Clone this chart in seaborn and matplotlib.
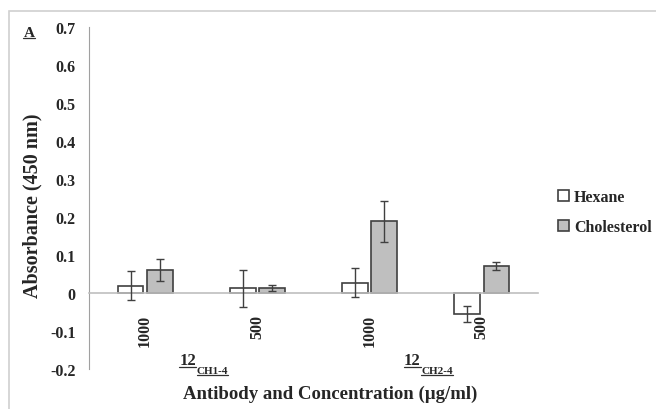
import numpy as np
import pandas as pd
import matplotlib.pyplot as plt
import seaborn as sns
from matplotlib.patches import Rectangle
from matplotlib.lines import Line2D

# data
groups = ["12", "12", "12", "12"]
group_subs = ["CH1-4", "CH1-4", "CH2-4", "CH2-4"]
concs = ["1000", "500", "1000", "500"]
solvents = ["Hexane", "Cholesterol"]
hexane = [0.019, 0.012, 0.027, -0.055]
hexane_err = [0.038, 0.048, 0.038, 0.022]
cholesterol = [0.060, 0.013, 0.189, 0.071]
cholesterol_err = [0.029, 0.007, 0.054, 0.010]

cats = [g + s + " " + c for g, s, c in zip(groups, group_subs, concs)]
df = pd.DataFrame({
    "cat": cats * 2,
    "solvent": [solvents[0]] * 4 + [solvents[1]] * 4,
    "value": hexane + cholesterol,
})
errs = {solvents[0]: hexane_err, solvents[1]: cholesterol_err}

sns.set_style("white")
plt.rcParams["font.family"] = ["Liberation Serif", "DejaVu Serif"]
plt.rcParams["font.weight"] = "bold"

fig = plt.figure(figsize=(6.56, 4.10), dpi=100)
ax = fig.add_axes([89 / 656, 1 - 370 / 410, (538 - 89) / 656, (370 - 28) / 410])

edge = "#404040"
sns.barplot(data=df, x="cat", y="value", hue="solvent", hue_order=solvents,
            order=cats, palette=["white", "#BFBFBF"], width=0.52, gap=0.12,
            edgecolor=edge, linewidth=1.2, errorbar=None, legend=False, ax=ax)
bar_conts = list(ax.containers)

# error bars on each bar
for cont, name in zip(bar_conts, solvents):
    xs = [p.get_x() + p.get_width() / 2 for p in cont.patches]
    ys = df[df.solvent == name].value.values
    ax.errorbar(xs, ys, yerr=errs[name], fmt="none", ecolor="#404040",
                elinewidth=1, capsize=3, capthick=1, zorder=5)

ax.set_ylim(-0.2, 0.7)
ax.set_xlim(-0.5, len(cats) - 0.5)
ax.set_yticks(np.arange(-0.2, 0.71, 0.1))
ax.set_yticklabels(["-0.2", "-0.1", "0", "0.1", "0.2", "0.3", "0.4", "0.5", "0.6", "0.7"])
ax.tick_params(axis="y", length=0, pad=9.5, labelsize=11.5)

ax.spines["top"].set_visible(False)
ax.spines["right"].set_visible(False)
ax.spines["left"].set_color("#A0A0A0")
ax.spines["bottom"].set_position(("data", 0))
ax.spines["bottom"].set_color("#BFBFBF")
ax.spines["bottom"].set_linewidth(1.2)

ax.set_xticks(range(len(cats)))
ax.set_xticklabels(concs, rotation=90, va="top", ha="center")
ax.tick_params(axis="x", length=0, pad=15, labelsize=11.5)
ax.set_xticks(np.arange(0.5, len(cats), 1.0), minor=True)
ax.tick_params(axis="x", which="minor", length=5, color="#BFBFBF", width=1.2)

ax.set_xlabel("Antibody and Concentration (µg/ml)", fontsize=13.5, fontweight="bold")
ax.xaxis.set_label_coords(0.537, -0.045)
ax.set_ylabel("Absorbance (450 nm)", fontsize=14.5, fontweight="bold")
ax.yaxis.set_label_coords(-0.104, 0.48)

# group labels: "12" with a subscript, both underlined
underline_texts = []
for g, s in dict.fromkeys(zip(groups, group_subs)):
    idx = [i for i, (gg, ss) in enumerate(zip(groups, group_subs)) if (gg, ss) == (g, s)]
    xc = np.mean(idx)
    t1 = ax.text(xc - 0.12, -0.188, g, ha="center", va="baseline",
                 fontsize=12, fontweight="bold")
    t2 = ax.annotate(s, xy=(1, 0), xycoords=t1, xytext=(0.3, -3.5),
                     textcoords="offset points", ha="left", va="baseline",
                     fontsize=8, fontweight="bold")
    underline_texts += [t1, t2]

ta = fig.text(29 / 656, 1 - 37 / 410, "A", ha="center", va="baseline",
              fontsize=11, fontweight="bold")
underline_texts.append(ta)

leg = ax.legend(handles=[c.patches[0] for c in bar_conts], labels=solvents,
                loc="center left", bbox_to_anchor=(558 / 656, 1 - 213 / 410),
                bbox_transform=fig.transFigure, frameon=False, fontsize=11.5,
                handlelength=0.7, handleheight=0.7, handletextpad=0.3,
                labelspacing=0.85, borderpad=0, borderaxespad=0)

# outer frame
fig.patches.append(Rectangle((8.5 / 656, -0.1), 2, 1 - 11.5 / 410 + 0.1,
                             transform=fig.transFigure, fill=False,
                             edgecolor="#D0D0D0", linewidth=1.2))

# underlines just under the baseline
fig.canvas.draw()
r = fig.canvas.get_renderer()
for t in underline_texts:
    bb = t.get_window_extent(r)
    y = bb.y0 + 0.2 * bb.height - 1.5
    fig.lines.append(Line2D([bb.x0 / 656, bb.x1 / 656], [y / 410, y / 410],
                            transform=fig.transFigure, color="#303030", linewidth=0.9))

fig.savefig("out.png", dpi=100)
